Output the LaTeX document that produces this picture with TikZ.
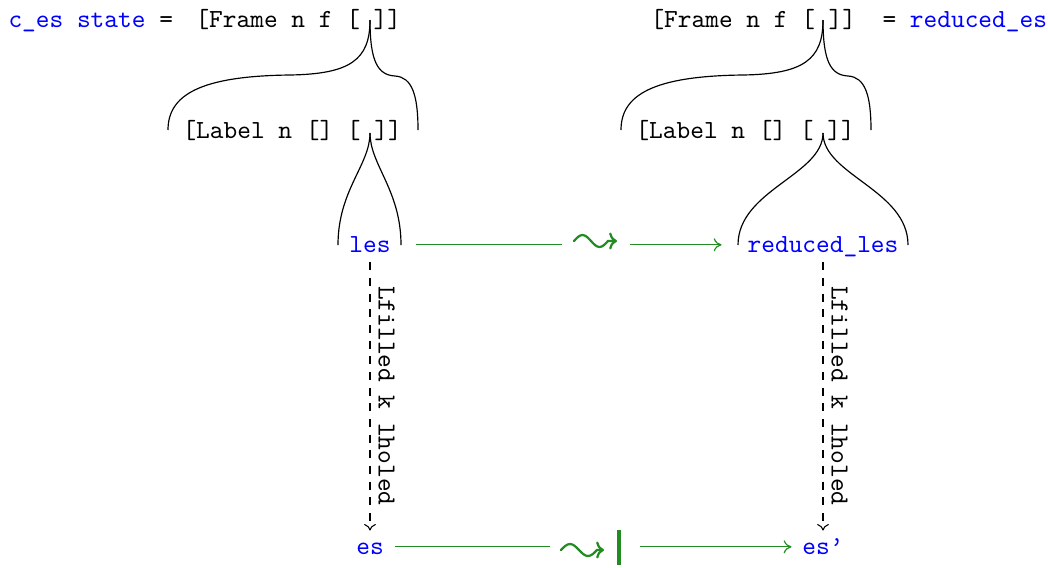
\documentclass[tikz,border=0pt]{standalone}
\usetikzlibrary{arrows.meta}
\definecolor{cgreen}{RGB}{34,139,34}
\definecolor{cblue}{RGB}{0,0,255}
\begin{document}
\begin{tikzpicture}[x=0.3831pt,y=-0.3831pt,
  txt/.style={font=\ttfamily, inner sep=0pt, anchor=base west},
  term/.style={font=\ttfamily, text=cblue, inner sep=0pt, text height=6.5pt, text depth=1pt, anchor=base},
  bracecurve/.style={black, line width=0.45pt},
  reduce/.style={cgreen, line width=0.45pt, -{To[length=3pt,width=5pt]}},
  fillarrow/.style={black, line width=0.4pt, dashed, -{To[length=2.5pt,width=4.5pt]}},
  lbl/.style={font=\ttfamily, rotate=-90, anchor=south, inner sep=3pt},
  gap/.style={fill=white, inner sep=0pt, minimum height=6pt},
  squig/.style={cgreen, line width=0.85pt, line cap=round, -{To[length=3pt,width=6.5pt]}},
  bar/.style={cgreen, line width=1.2pt}]
\useasboundingbox (0,0) rectangle (1048,567);

% top row
\node[txt] (ces) at (8,27) {{\color{cblue}c\_es state} =};
\node[txt] (fl) at (195,27) {[Frame n f [ ]]};
\node[txt] (fr) at (650,27) {[Frame n f [ ]]};
\node[txt] (eqr) at (882,27) {= {\color{cblue}reduced\_es}};

% label row
\node[txt] (ll) at (182,138) {[Label n [] [ ]]};
\node[txt] (lr) at (635,138) {[Label n [] [ ]]};

% terms
\node[term] (les) at (370,252) {les};
\node[term] (rles) at (823,252) {reduced\_les};
\node[term] (es) at (370,554) {es};
\node[term] (es2) at (823,554) {es’};

% braces (left)
\draw[bracecurve] (370,20) .. controls (370,60) and (350,74) .. (290,75)
  .. controls (200,76) and (168,95) .. (168,130);
\draw[bracecurve] (370,20) .. controls (370,62) and (378,75) .. (395,76)
  .. controls (412,77) and (418,95) .. (418,130);
\draw[bracecurve] (370,133) .. controls (370,165) and (338,190) .. (338,245);
\draw[bracecurve] (370,133) .. controls (370,165) and (401,190) .. (401,245);

% braces (right)
\draw[bracecurve] (823,20) .. controls (823,60) and (803,74) .. (743,75)
  .. controls (653,76) and (621,95) .. (621,130);
\draw[bracecurve] (823,20) .. controls (823,62) and (831,75) .. (848,76)
  .. controls (865,77) and (871,95) .. (871,130);
\draw[bracecurve] (823,133) .. controls (823,175) and (738,190) .. (738,245);
\draw[bracecurve] (823,133) .. controls (823,175) and (908,190) .. (908,245);

% reductions
\draw[reduce, shorten <=9.4pt, shorten >=9.8pt] (les) -- (rles)
  node[gap, pos=0.576, minimum width=26pt] (g1) {};
\draw[squig] (574,241) sin (582.5,235) cos (591,241) sin (599.5,247) cos (608,241) -- (617,241);

\draw[reduce, shorten <=4.3pt, shorten >=4pt] (es) -- (es2)
  node[gap, pos=0.505, minimum width=34.5pt] (g2) {};
\draw[squig] (561,550) sin (570,544) cos (579,550) sin (588,556) cos (597,550) -- (604,550);
\draw[bar] (619,530) -- (619,565);

% fill arrows
\draw[fillarrow, shorten <=2.8pt, shorten >=2.3pt] (les) -- (es)
  node[lbl, midway] {Lfilled k lholed};
\draw[fillarrow, shorten <=2.8pt, shorten >=2.3pt] (rles) -- (es2)
  node[lbl, midway] {Lfilled k lholed};
\end{tikzpicture}
\end{document}
